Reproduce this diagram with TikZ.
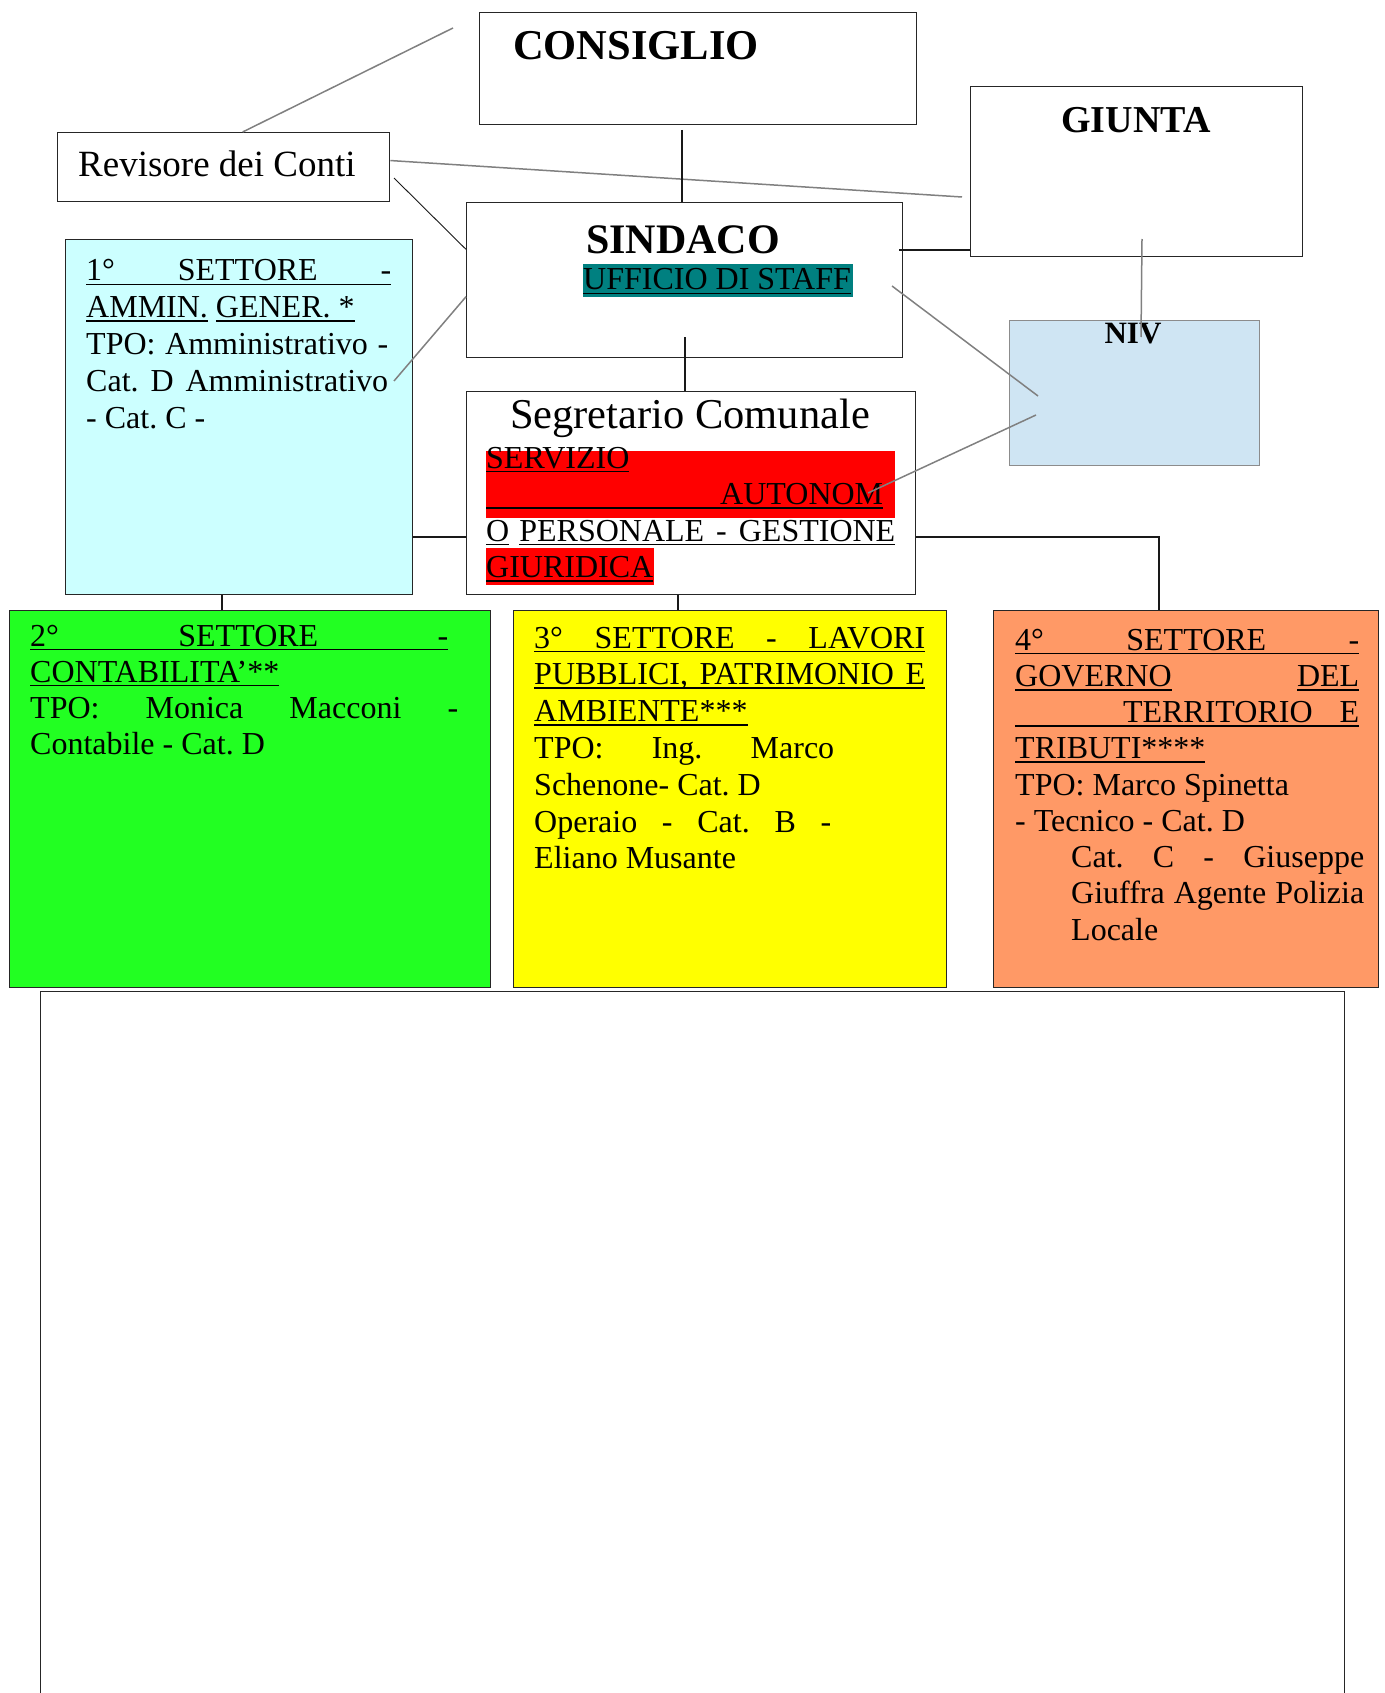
\documentclass[tikz,border=0pt]{standalone}
\usepackage{fontspec}
\setmainfont{Liberation Serif}
\usetikzlibrary{calc}
\frenchspacing
\definecolor{cyanbg}{HTML}{CCFFFF}
\definecolor{nivbg}{HTML}{CFE5F3}
\definecolor{greenbg}{HTML}{22FF22}
\definecolor{yellowbg}{HTML}{FFFF00}
\definecolor{orangebg}{HTML}{FF9966}
\definecolor{tealhl}{HTML}{008080}
\definecolor{redhl}{HTML}{FF0000}
\newsavebox\ulsavebox
\newcommand\U[1]{\sbox\ulsavebox{#1}\rlap{\rule[-4.3pt]{\wd\ulsavebox}{1.7pt}}\usebox\ulsavebox}
\newcommand\J[2]{\makebox[#1][s]{#2}}
\newcommand\Lines[2]{\vtop{\baselineskip=#1\lineskiplimit=-1000pt\lineskip=0pt\relax #2}}
\begin{document}
\begin{tikzpicture}[x=1pt,y=-1pt,
  box/.style={draw=black!85, line width=1.3pt, rectangle, inner sep=0pt, anchor=north west},
  txt/.style={inner sep=0pt, anchor=base west, font=\fontsize{32}{36}\selectfont},
  blk/.style={line width=1.1pt, draw=black!90},
  gry/.style={line width=1.5pt, draw=black!50}]
\useasboundingbox (0,0) rectangle (1384,1693);
\clip (0,0) rectangle (1384,1693);

% boxes
\node[box, minimum width=437pt, minimum height=112pt] (cons) at (479,12) {};
\node[box, minimum width=332pt, minimum height=170pt] (giunta) at (970,86) {};
\node[box, minimum width=332pt, minimum height=69pt] (rev) at (57,132) {};
\node[box, minimum width=436pt, minimum height=155pt] (sind) at (466,202) {};
\node[box, fill=cyanbg, minimum width=347pt, minimum height=355pt] (s1) at (65,239) {};
\node[box, draw=black!45, fill=nivbg, minimum width=250pt, minimum height=145pt] (niv) at (1009,320) {};
\node[box, minimum width=449pt, minimum height=203pt] (segr) at (466,391) {};
\node[box, fill=greenbg, minimum width=481pt, minimum height=377pt] (s2) at (9,610) {};
\node[box, fill=yellowbg, minimum width=433pt, minimum height=377pt] (s3) at (513,610) {};
\node[box, fill=orangebg, minimum width=385pt, minimum height=377pt] (s4) at (993,610) {};
\node[box, minimum width=1304pt, minimum height=740pt] (big) at (40,991) {};

% highlights
\fill[tealhl] (583,264) rectangle (853,297);
\fill[redhl] (486,451) rectangle (895,518);
\fill[redhl] (486,548) rectangle (654,585);

% titles
\node[inner sep=0pt, anchor=base west, font=\bfseries\fontsize{42.5}{42}\selectfont] (cons-t) at (513,60) {CONSIGLIO};
\node[inner sep=0pt, anchor=base, font=\bfseries\fontsize{38}{38}\selectfont] (giunta-t) at (1136,133) {GIUNTA};
\node[inner sep=0pt, anchor=base west, font=\fontsize{37}{37}\selectfont] (rev-t) at (78,177) {Revisore dei Conti};
\node[inner sep=0pt, anchor=base, font=\bfseries\fontsize{42}{42}\selectfont] (sind-t) at (683,254) {SINDACO};
\node[txt] (staff-t) at (583,290) {\U{UFFICIO DI STAFF}};
\node[inner sep=0pt, anchor=base, font=\bfseries\fontsize{31}{31}\selectfont] (niv-t) at (1133,343) {NIV};
\node[inner sep=0pt, anchor=base, font=\fontsize{42.5}{42}\selectfont] (segr-t) at (690,428) {Segretario Comunale};

% body texts
\node[txt] (segr-b) at (486,468) {\Lines{36.5pt}{%
  \hbox{\U{SERVIZIO}}%
  \hbox{\U{\makebox[397pt][r]{AUTONOM}}}%
  \hbox{\U{O}\hspace{10pt}\U{\J{376pt}{PERSONALE - GESTIONE}}}%
  \hbox{\U{GIURIDICA}}}};

\node[txt] (s1-t) at (86,281) {\Lines{36.75pt}{%
  \hbox{\U{\J{305pt}{1° SETTORE -}}}%
  \hbox{\U{AMMIN.} \U{GENER. *}}%
  \hbox{\J{302pt}{TPO: Amministrativo -}}%
  \hbox{\J{302pt}{Cat. D Amministrativo}}%
  \hbox{- Cat. C -}}};

\node[txt] (s2-t) at (30,646) {\Lines{36pt}{%
  \hbox{\U{\J{418pt}{2° SETTORE -}}}%
  \hbox{\U{CONTABILITA’**}}%
  \hbox{\J{428pt}{TPO: Monica Macconi -}}%
  \hbox{Contabile - Cat. D}}};

\node[txt] (s3-t) at (534,648) {\Lines{36.8pt}{%
  \hbox{\U{\J{391pt}{3° SETTORE - LAVORI}}}%
  \hbox{\U{\J{391pt}{PUBBLICI, PATRIMONIO E}}}%
  \hbox{\U{AMBIENTE***}}%
  \hbox{\J{300pt}{TPO: Ing. Marco}}%
  \hbox{Schenone- Cat. D}%
  \hbox{\J{297pt}{Operaio - Cat. B -}}%
  \hbox{Eliano Musante}}};

\node[txt] (s4-t) at (1015,650) {\Lines{36.25pt}{%
  \hbox{\U{\J{344pt}{4° SETTORE -}}}%
  \hbox{\J{344pt}{\U{GOVERNO} \U{DEL}}}%
  \hbox{\U{\makebox[344pt][r]{TERRITORIO\hspace{27pt}E}}}%
  \hbox{\U{TRIBUTI****}}%
  \hbox{TPO: Marco Spinetta}%
  \hbox{- Tecnico - Cat. D}%
  \hbox{\hspace*{56pt}\J{293pt}{Cat. C - Giuseppe}}%
  \hbox{\hspace*{56pt}\J{293pt}{Giuffra Agente Polizia}}%
  \hbox{\hspace*{56pt}Locale}}};

% connector helper coordinates
\coordinate (c1) at (453,28);
\coordinate (c2) at (962,197);
\coordinate (c3) at (394,178);
\coordinate (c4) at (682,130);
\coordinate (c5) at (899,250);
\coordinate (c6) at (1142,239);
\coordinate (c6b) at (1141,337);
\coordinate (c7) at (892,286);
\coordinate (c7b) at (1038,396);
\coordinate (c8) at (868,493);
\coordinate (c8b) at (1036,415);
\coordinate (c9) at (394,381);
\coordinate (c10) at (685,337);
\coordinate (c11) at (440,537);
\coordinate (c12) at (1159,537);
\coordinate (c13) at (222,600);
\coordinate (c14) at (678,600);

% connectors
\draw[gry] (c1) -- ($(rev.north west)!0.557!(rev.north east)$);
\draw[gry] ($(rev.north east)!0.406!(rev.south east)$) -- (c2);
\draw[blk, line width=0.9pt] (c3) -- ($(sind.north west)!0.303!(sind.south west)$);
\draw[blk] (c4) -- (c4 |- sind.north);
\draw[blk] (c5) -- (c5 -| giunta.west);
\draw[gry] (c6) -- (c6b);
\draw[gry] (c7) -- (c7b);
\draw[gry] (c8) -- (c8b);
\draw[gry] (c9) -- ($(sind.north west)!0.606!(sind.south west)$);
\draw[blk] (c10) -- (c10 |- segr.north);
\draw[blk] (s1.east |- c11) -- (segr.west |- c11);
\draw[blk] (segr.east |- c12) -- (c12) -- (c12 |- s4.north);
\draw[blk] (c13 |- s1.south) -- (c13 |- s2.north);
\draw[blk] (c14 |- segr.south) -- (c14 |- s3.north);
\end{tikzpicture}
\end{document}
